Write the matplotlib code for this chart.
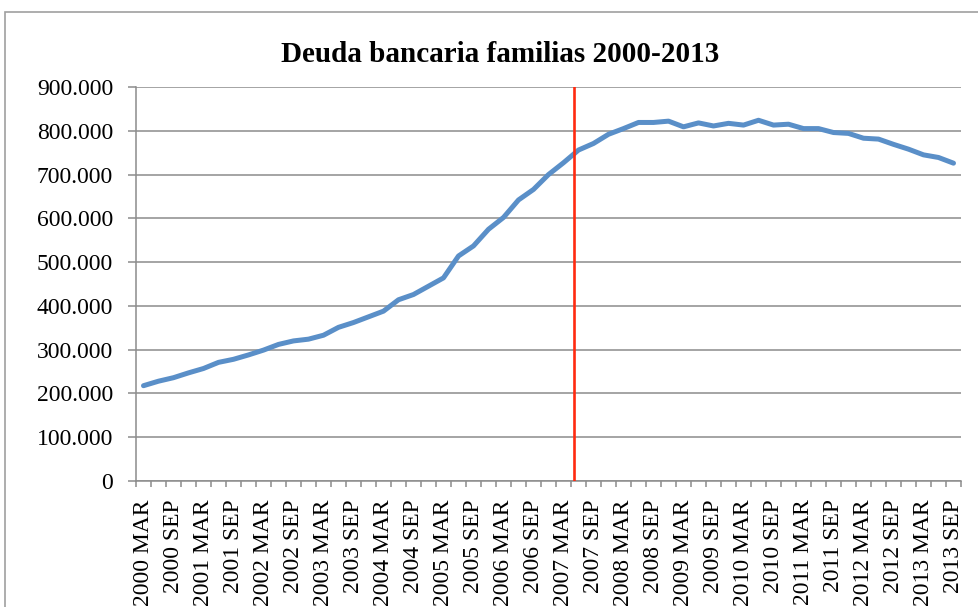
import numpy as np
import matplotlib.pyplot as plt
from matplotlib.patches import Rectangle
from matplotlib.ticker import FuncFormatter, FixedLocator

plt.rcParams['font.family'] = ['Liberation Serif', 'DejaVu Serif']

# quarterly labels 2000 MAR .. 2013 SEP
years = list(range(2000, 2014))
quarters = ['MAR', 'JUN', 'SEP', 'DIC']
periods = [f"{y} {q}" for y in years for q in quarters][:55]

# household bank debt
deuda = [217700, 228000, 236000, 247000, 257000, 271000, 278000, 288000,
         299000, 312000, 320000, 324000, 333000, 351000, 362000, 375000,
         388000, 414000, 426000, 445000, 464000, 514000, 537000, 575000,
         602000, 642000, 666000, 700000, 727000, 756000, 771000, 792000,
         805000, 819000, 819000, 822000, 809000, 818000, 811000, 817000,
         813000, 824000, 813000, 815000, 805000, 805000, 796000, 794000,
         783000, 781000, 769000, 758000, 745000, 739000, 726000]

corte = 28.73  # red marker just after 2007 MAR

fig = plt.figure(figsize=(9.79, 6.07), dpi=100)
ax = fig.add_axes([136/979, 1 - 481/607, (961 - 136)/979, (481 - 87)/607])

x = np.arange(len(deuda))
ax.plot(x, deuda, color='#5A8FC8', lw=3.6, solid_capstyle='round', solid_joinstyle='round', zorder=3)
ax.axvline(corte, color='#FF2A10', lw=1.9, zorder=4)

ax.set_xlim(-0.5, len(deuda) - 0.5)
ax.set_ylim(0, 900000)
ax.set_yticks(np.arange(0, 900001, 100000))
ax.yaxis.set_major_formatter(FuncFormatter(lambda v, p: f"{int(v):,}".replace(',', '.')))
ax.grid(axis='y', color='#8C8C8C', lw=1.1, zorder=0)

ax.set_xticks(x[::2])
ax.set_xticklabels(periods[::2], rotation=90, va='top', ha='center')
ax.xaxis.set_minor_locator(FixedLocator(np.arange(-0.5, len(deuda), 1)))
ax.tick_params(axis='x', which='major', length=0, pad=13, labelsize=17)
ax.tick_params(axis='x', which='minor', length=4.5, color='#8C8C8C', width=1.1)
ax.tick_params(axis='y', length=5.5, color='#8C8C8C', width=1.1, pad=11, labelsize=17)

for s in ['top', 'right']:
    ax.spines[s].set_visible(False)
for s in ['left', 'bottom']:
    ax.spines[s].set_color('#8C8C8C')
    ax.spines[s].set_linewidth(1.1)

fig.text(500/979, 1 - 55/607, 'Deuda bancaria familias 2000-2013', ha='center', va='center',
         fontsize=21, fontweight='bold')

# chart frame, cut off at right and bottom
fig.patches.append(Rectangle((5/979, -0.1), 1.2, 1.1 - 12/607, transform=fig.transFigure,
                             fill=False, edgecolor='#A0A0A0', lw=1.2))

fig.savefig('out.png', dpi=100)
